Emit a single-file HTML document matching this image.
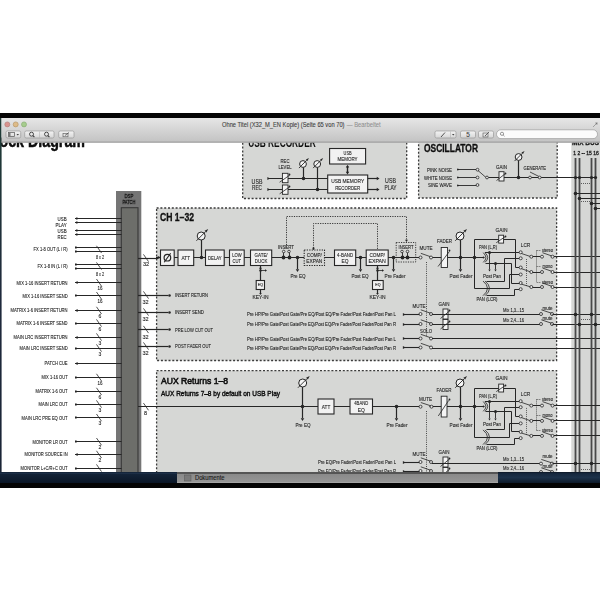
<!DOCTYPE html><html><head><meta charset="utf-8"><style>html,body{margin:0;padding:0;width:600px;height:600px;overflow:hidden;background:#fff}svg text{font-family:"Liberation Sans", sans-serif}</style></head><body><svg width="600" height="600" viewBox="0 0 600 600" style="position:absolute;left:0;top:0;font-family:&quot;Liberation Sans&quot;, sans-serif">
<defs><linearGradient id="tb" x1="0" y1="0" x2="0" y2="1"><stop offset="0" stop-color="#e6e6e6"/><stop offset="0.5" stop-color="#d4d4d4"/><stop offset="1" stop-color="#c2c2c2"/></linearGradient><linearGradient id="dock" x1="0" y1="0" x2="0" y2="1"><stop offset="0" stop-color="#8a8a8a"/><stop offset="1" stop-color="#969696"/></linearGradient><linearGradient id="blue" x1="0" y1="0" x2="0" y2="1"><stop offset="0" stop-color="#15263c"/><stop offset="1" stop-color="#0a1626"/></linearGradient><linearGradient id="btn" x1="0" y1="0" x2="0" y2="1"><stop offset="0" stop-color="#f4f4f4"/><stop offset="1" stop-color="#d6d6d6"/></linearGradient><linearGradient id="strip" x1="0" y1="0" x2="0" y2="1"><stop offset="0" stop-color="#1f3d36"/><stop offset="0.5" stop-color="#1f2a3c"/><stop offset="1" stop-color="#1a2436"/></linearGradient><linearGradient id="blue2" x1="0" y1="0" x2="0" y2="1"><stop offset="0" stop-color="#0c1624"/><stop offset="0.15" stop-color="#16283e"/><stop offset="0.5" stop-color="#1c3149"/><stop offset="1" stop-color="#0e1b2b"/></linearGradient><filter id="soft" x="0" y="0" width="1" height="1"><feGaussianBlur stdDeviation="0.35"/></filter></defs>
<g filter="url(#soft)">
<rect x="0" y="113" width="600" height="360" fill="#ffffff" />
<text x="-0.5" y="146.8" font-size="17.5" text-anchor="start" font-weight="bold" fill="#0a0a0a" textLength="85.5" lengthAdjust="spacingAndGlyphs" stroke="#0a0a0a" stroke-width="0.5">ock Diagram</text>
<rect x="242.7" y="128" width="164" height="70.5" fill="#d6d7d5" stroke="#3a3a3a" stroke-width="1.3" stroke-dasharray="2,1.8" />
<text x="248.2" y="147" font-size="12" text-anchor="start" font-weight="bold" fill="#111" textLength="67.5" lengthAdjust="spacingAndGlyphs" >USB RECORDER</text>
<rect x="418.6" y="128" width="138.6" height="70" fill="#d6d7d5" stroke="#3a3a3a" stroke-width="1.3" stroke-dasharray="2,1.8" />
<text x="424" y="151.5" font-size="10" text-anchor="start" font-weight="bold" fill="#111" textLength="54" lengthAdjust="spacingAndGlyphs" stroke="#111" stroke-width="0.3">OSCILLATOR</text>
<rect x="571.3" y="128" width="30" height="350" fill="#d6d7d5" />
<rect x="156.6" y="208" width="400" height="152.5" fill="#d6d7d5" stroke="#3a3a3a" stroke-width="1.3" stroke-dasharray="2,1.8" />
<text x="160" y="220.5" font-size="11" text-anchor="start" font-weight="bold" fill="#111" textLength="34" lengthAdjust="spacingAndGlyphs" stroke="#111" stroke-width="0.35">CH 1–32</text>
<rect x="156.6" y="370.6" width="400" height="130" fill="#d6d7d5" stroke="#3a3a3a" stroke-width="1.3" stroke-dasharray="2,1.8" />
<text x="161" y="383.5" font-size="9.8" text-anchor="start" font-weight="normal" fill="#111" textLength="67" lengthAdjust="spacingAndGlyphs" stroke="#111" stroke-width="0.6">AUX Returns 1–8</text>
<text x="161" y="395.5" font-size="6.8" text-anchor="start" font-weight="normal" fill="#111" textLength="119" lengthAdjust="spacingAndGlyphs" stroke="#111" stroke-width="0.4">AUX Returns 7–8 by default on USB Play</text>
<rect x="116" y="191" width="25.3" height="290" fill="#757575" />
<rect x="121.3" y="207.7" width="16.7" height="280" fill="#6d6e6a" stroke="#383838" stroke-width="1.1" />
<text x="128.9" y="198" font-size="5.5" text-anchor="middle" font-weight="normal" fill="#1a1a1a" textLength="9" lengthAdjust="spacingAndGlyphs" stroke="#1a1a1a" stroke-width="0.3">DSP</text>
<text x="128.9" y="204" font-size="5.5" text-anchor="middle" font-weight="normal" fill="#1a1a1a" textLength="13" lengthAdjust="spacingAndGlyphs" stroke="#1a1a1a" stroke-width="0.3">PATCH</text>
<line x1="75" y1="218.5" x2="121.5" y2="218.5" stroke="#262626" stroke-width="1.2"/>
<polygon points="75,218.5 77.34,217.06 77.34,219.94" fill="#262626"/>
<line x1="75" y1="222.5" x2="121.5" y2="222.5" stroke="#262626" stroke-width="1.2"/>
<polygon points="75,222.5 77.34,221.06 77.34,223.94" fill="#262626"/>
<line x1="75" y1="230.5" x2="121.5" y2="230.5" stroke="#262626" stroke-width="1.2"/>
<polygon points="75,230.5 77.34,229.06 77.34,231.94" fill="#262626"/>
<line x1="75" y1="234.5" x2="121.5" y2="234.5" stroke="#262626" stroke-width="1.2"/>
<polygon points="75,234.5 77.34,233.06 77.34,235.94" fill="#262626"/>
<text x="66.6" y="220.5" font-size="5.5" text-anchor="end" font-weight="normal" fill="#262626" textLength="9" lengthAdjust="spacingAndGlyphs" stroke="#262626" stroke-width="0.12">USB</text>
<text x="66.6" y="226.5" font-size="5.5" text-anchor="end" font-weight="normal" fill="#262626" textLength="11" lengthAdjust="spacingAndGlyphs" stroke="#262626" stroke-width="0.12">PLAY</text>
<text x="66.6" y="232.5" font-size="5.5" text-anchor="end" font-weight="normal" fill="#262626" textLength="9" lengthAdjust="spacingAndGlyphs" stroke="#262626" stroke-width="0.12">USB</text>
<text x="66.6" y="238.5" font-size="5.5" text-anchor="end" font-weight="normal" fill="#262626" textLength="9" lengthAdjust="spacingAndGlyphs" stroke="#262626" stroke-width="0.12">REC</text>
<line x1="75" y1="247.5" x2="121.5" y2="247.5" stroke="#262626" stroke-width="1.0"/>
<polygon points="78,247.5 75.4,245.9 75.4,249.1" fill="#262626"/>
<line x1="75" y1="251.5" x2="121.5" y2="251.5" stroke="#262626" stroke-width="1.0"/>
<polygon points="78,251.5 75.4,249.9 75.4,253.1" fill="#262626"/>
<line x1="96.48" y1="245.8" x2="101.52" y2="253.0" stroke="#262626" stroke-width="0.8"/>
<text x="100" y="258.9" font-size="5.5" text-anchor="middle" font-weight="normal" fill="#262626" textLength="8" lengthAdjust="spacingAndGlyphs" stroke="#262626" stroke-width="0.12">8 x 2</text>
<text x="67.6" y="251.4" font-size="5.8" text-anchor="end" font-weight="normal" fill="#262626" textLength="34" lengthAdjust="spacingAndGlyphs" stroke="#262626" stroke-width="0.12">FX 1-8 OUT (L / R)</text>
<line x1="75" y1="264.5" x2="121.5" y2="264.5" stroke="#262626" stroke-width="1.0"/>
<polygon points="78,264.5 75.4,262.9 75.4,266.1" fill="#262626"/>
<line x1="75" y1="268.5" x2="121.5" y2="268.5" stroke="#262626" stroke-width="1.0"/>
<polygon points="78,268.5 75.4,266.9 75.4,270.1" fill="#262626"/>
<line x1="96.48" y1="262.4" x2="101.52" y2="269.6" stroke="#262626" stroke-width="0.8"/>
<text x="100" y="275.5" font-size="5.5" text-anchor="middle" font-weight="normal" fill="#262626" textLength="8" lengthAdjust="spacingAndGlyphs" stroke="#262626" stroke-width="0.12">8 x 2</text>
<text x="67.6" y="268" font-size="5.8" text-anchor="end" font-weight="normal" fill="#262626" textLength="30" lengthAdjust="spacingAndGlyphs" stroke="#262626" stroke-width="0.12">FX 1-8 IN (L / R)</text>
<line x1="75" y1="282.5" x2="121.5" y2="282.5" stroke="#262626" stroke-width="1.0"/>
<polygon points="75,282.5 77.6,280.9 77.6,284.1" fill="#262626"/>
<line x1="96.48" y1="279.0" x2="101.52" y2="286.20000000000005" stroke="#262626" stroke-width="0.8"/>
<text x="100" y="290.1" font-size="5.5" text-anchor="middle" font-weight="normal" fill="#262626" textLength="5" lengthAdjust="spacingAndGlyphs" stroke="#262626" stroke-width="0.12">16</text>
<text x="67.6" y="284.6" font-size="5.8" text-anchor="end" font-weight="normal" fill="#262626" textLength="51" lengthAdjust="spacingAndGlyphs" stroke="#262626" stroke-width="0.12">MIX 1-16 INSERT RETURN</text>
<line x1="75" y1="295.5" x2="121.5" y2="295.5" stroke="#262626" stroke-width="1.0"/>
<polygon points="78,295.5 75.4,293.9 75.4,297.1" fill="#262626"/>
<line x1="96.48" y1="292.0" x2="101.52" y2="299.20000000000005" stroke="#262626" stroke-width="0.8"/>
<text x="100" y="303.1" font-size="5.5" text-anchor="middle" font-weight="normal" fill="#262626" textLength="5" lengthAdjust="spacingAndGlyphs" stroke="#262626" stroke-width="0.12">16</text>
<text x="67.6" y="297.6" font-size="5.8" text-anchor="end" font-weight="normal" fill="#262626" textLength="45" lengthAdjust="spacingAndGlyphs" stroke="#262626" stroke-width="0.12">MIX 1-16 INSERT SEND</text>
<line x1="75" y1="310.5" x2="121.5" y2="310.5" stroke="#262626" stroke-width="1.0"/>
<polygon points="75,310.5 77.6,308.9 77.6,312.1" fill="#262626"/>
<line x1="96.48" y1="306.79999999999995" x2="101.52" y2="314.0" stroke="#262626" stroke-width="0.8"/>
<text x="100" y="317.9" font-size="5.5" text-anchor="middle" font-weight="normal" fill="#262626" textLength="2.8" lengthAdjust="spacingAndGlyphs" stroke="#262626" stroke-width="0.12">6</text>
<text x="67.6" y="312.4" font-size="5.8" text-anchor="end" font-weight="normal" fill="#262626" textLength="57" lengthAdjust="spacingAndGlyphs" stroke="#262626" stroke-width="0.12">MATRIX 1-6 INSERT RETURN</text>
<line x1="75" y1="323.5" x2="121.5" y2="323.5" stroke="#262626" stroke-width="1.0"/>
<polygon points="78,323.5 75.4,321.9 75.4,325.1" fill="#262626"/>
<line x1="96.48" y1="319.4" x2="101.52" y2="326.6" stroke="#262626" stroke-width="0.8"/>
<text x="100" y="330.5" font-size="5.5" text-anchor="middle" font-weight="normal" fill="#262626" textLength="2.8" lengthAdjust="spacingAndGlyphs" stroke="#262626" stroke-width="0.12">6</text>
<text x="67.6" y="325" font-size="5.8" text-anchor="end" font-weight="normal" fill="#262626" textLength="51" lengthAdjust="spacingAndGlyphs" stroke="#262626" stroke-width="0.12">MATRIX 1-6 INSERT SEND</text>
<line x1="75" y1="337.5" x2="121.5" y2="337.5" stroke="#262626" stroke-width="1.0"/>
<polygon points="75,337.5 77.6,335.9 77.6,339.1" fill="#262626"/>
<line x1="96.48" y1="333.4" x2="101.52" y2="340.6" stroke="#262626" stroke-width="0.8"/>
<text x="100" y="344.5" font-size="5.5" text-anchor="middle" font-weight="normal" fill="#262626" textLength="2.8" lengthAdjust="spacingAndGlyphs" stroke="#262626" stroke-width="0.12">3</text>
<text x="67.6" y="339" font-size="5.8" text-anchor="end" font-weight="normal" fill="#262626" textLength="54" lengthAdjust="spacingAndGlyphs" stroke="#262626" stroke-width="0.12">MAIN LRC INSERT RETURN</text>
<line x1="75" y1="348.5" x2="121.5" y2="348.5" stroke="#262626" stroke-width="1.0"/>
<polygon points="78,348.5 75.4,346.9 75.4,350.1" fill="#262626"/>
<line x1="96.48" y1="344.4" x2="101.52" y2="351.6" stroke="#262626" stroke-width="0.8"/>
<text x="100" y="355.5" font-size="5.5" text-anchor="middle" font-weight="normal" fill="#262626" textLength="2.8" lengthAdjust="spacingAndGlyphs" stroke="#262626" stroke-width="0.12">3</text>
<text x="67.6" y="350" font-size="5.8" text-anchor="end" font-weight="normal" fill="#262626" textLength="48" lengthAdjust="spacingAndGlyphs" stroke="#262626" stroke-width="0.12">MAIN LRC INSERT SEND</text>
<line x1="75" y1="363.5" x2="121.5" y2="363.5" stroke="#262626" stroke-width="1.0"/>
<polygon points="75,363.5 77.6,361.9 77.6,365.1" fill="#262626"/>
<text x="67.6" y="365" font-size="5.8" text-anchor="end" font-weight="normal" fill="#262626" textLength="23" lengthAdjust="spacingAndGlyphs" stroke="#262626" stroke-width="0.12">PATCH CUE</text>
<line x1="75" y1="377.5" x2="121.5" y2="377.5" stroke="#262626" stroke-width="1.0"/>
<polygon points="78,377.5 75.4,375.9 75.4,379.1" fill="#262626"/>
<line x1="96.48" y1="373.79999999999995" x2="101.52" y2="381.0" stroke="#262626" stroke-width="0.8"/>
<text x="100" y="384.9" font-size="5.5" text-anchor="middle" font-weight="normal" fill="#262626" textLength="5" lengthAdjust="spacingAndGlyphs" stroke="#262626" stroke-width="0.12">16</text>
<text x="67.6" y="379.4" font-size="5.8" text-anchor="end" font-weight="normal" fill="#262626" textLength="26" lengthAdjust="spacingAndGlyphs" stroke="#262626" stroke-width="0.12">MIX 1-16 OUT</text>
<line x1="75" y1="391.5" x2="121.5" y2="391.5" stroke="#262626" stroke-width="1.0"/>
<polygon points="78,391.5 75.4,389.9 75.4,393.1" fill="#262626"/>
<line x1="96.48" y1="387.79999999999995" x2="101.52" y2="395.0" stroke="#262626" stroke-width="0.8"/>
<text x="100" y="398.9" font-size="5.5" text-anchor="middle" font-weight="normal" fill="#262626" textLength="2.8" lengthAdjust="spacingAndGlyphs" stroke="#262626" stroke-width="0.12">6</text>
<text x="67.6" y="393.4" font-size="5.8" text-anchor="end" font-weight="normal" fill="#262626" textLength="32" lengthAdjust="spacingAndGlyphs" stroke="#262626" stroke-width="0.12">MATRIX 1-6 OUT</text>
<line x1="75" y1="404.5" x2="121.5" y2="404.5" stroke="#262626" stroke-width="1.0"/>
<polygon points="78,404.5 75.4,402.9 75.4,406.1" fill="#262626"/>
<line x1="96.48" y1="400.4" x2="101.52" y2="407.6" stroke="#262626" stroke-width="0.8"/>
<text x="100" y="411.5" font-size="5.5" text-anchor="middle" font-weight="normal" fill="#262626" textLength="2.8" lengthAdjust="spacingAndGlyphs" stroke="#262626" stroke-width="0.12">3</text>
<text x="67.6" y="406" font-size="5.8" text-anchor="end" font-weight="normal" fill="#262626" textLength="29" lengthAdjust="spacingAndGlyphs" stroke="#262626" stroke-width="0.12">MAIN LRC OUT</text>
<line x1="75" y1="417.5" x2="121.5" y2="417.5" stroke="#262626" stroke-width="1.0"/>
<polygon points="78,417.5 75.4,415.9 75.4,419.1" fill="#262626"/>
<line x1="96.48" y1="414.0" x2="101.52" y2="421.20000000000005" stroke="#262626" stroke-width="0.8"/>
<text x="100" y="425.1" font-size="5.5" text-anchor="middle" font-weight="normal" fill="#262626" textLength="2.8" lengthAdjust="spacingAndGlyphs" stroke="#262626" stroke-width="0.12">3</text>
<text x="67.6" y="419.6" font-size="5.8" text-anchor="end" font-weight="normal" fill="#262626" textLength="46" lengthAdjust="spacingAndGlyphs" stroke="#262626" stroke-width="0.12">MAIN LRC PRE EQ OUT</text>
<line x1="75" y1="441.5" x2="121.5" y2="441.5" stroke="#262626" stroke-width="1.0"/>
<polygon points="78,441.5 75.4,439.9 75.4,443.1" fill="#262626"/>
<line x1="96.48" y1="438.0" x2="101.52" y2="445.20000000000005" stroke="#262626" stroke-width="0.8"/>
<text x="100" y="449.1" font-size="5.5" text-anchor="middle" font-weight="normal" fill="#262626" textLength="2.8" lengthAdjust="spacingAndGlyphs" stroke="#262626" stroke-width="0.12">2</text>
<text x="67.6" y="443.6" font-size="5.8" text-anchor="end" font-weight="normal" fill="#262626" textLength="35" lengthAdjust="spacingAndGlyphs" stroke="#262626" stroke-width="0.12">MONITOR LR OUT</text>
<line x1="75" y1="454.5" x2="121.5" y2="454.5" stroke="#262626" stroke-width="1.0"/>
<polygon points="75,454.5 77.6,452.9 77.6,456.1" fill="#262626"/>
<line x1="96.48" y1="450.79999999999995" x2="101.52" y2="458.0" stroke="#262626" stroke-width="0.8"/>
<text x="100" y="461.9" font-size="5.5" text-anchor="middle" font-weight="normal" fill="#262626" textLength="2.8" lengthAdjust="spacingAndGlyphs" stroke="#262626" stroke-width="0.12">2</text>
<text x="67.6" y="456.4" font-size="5.8" text-anchor="end" font-weight="normal" fill="#262626" textLength="43" lengthAdjust="spacingAndGlyphs" stroke="#262626" stroke-width="0.12">MONITOR SOURCE IN</text>
<line x1="75" y1="468.5" x2="121.5" y2="468.5" stroke="#262626" stroke-width="1.0"/>
<polygon points="78,468.5 75.4,466.9 75.4,470.1" fill="#262626"/>
<line x1="96.48" y1="464.4" x2="101.52" y2="471.6" stroke="#262626" stroke-width="0.8"/>
<text x="100" y="475.5" font-size="5.5" text-anchor="middle" font-weight="normal" fill="#262626" textLength="2.8" lengthAdjust="spacingAndGlyphs" stroke="#262626" stroke-width="0.12">2</text>
<text x="67.6" y="470" font-size="5.8" text-anchor="end" font-weight="normal" fill="#262626" textLength="47" lengthAdjust="spacingAndGlyphs" stroke="#262626" stroke-width="0.12">MONITOR L+C/R+C OUT</text>
<line x1="138" y1="258.5" x2="158" y2="258.5" stroke="#262626" stroke-width="1.2"/>
<line x1="143.48" y1="254.4" x2="148.52" y2="261.6" stroke="#262626" stroke-width="0.8"/>
<text x="146" y="266" font-size="5.5" text-anchor="middle" font-weight="normal" fill="#262626" stroke="#262626" stroke-width="0.12">32</text>
<line x1="138" y1="295.5" x2="168" y2="295.5" stroke="#262626" stroke-width="1.2"/>
<circle cx="169.5" cy="295.5" r="1.3" fill="#262626"/>
<line x1="143.48" y1="291.4" x2="148.52" y2="298.6" stroke="#262626" stroke-width="0.8"/>
<text x="145.5" y="304" font-size="5.5" text-anchor="middle" font-weight="normal" fill="#262626" stroke="#262626" stroke-width="0.12">32</text>
<text x="175" y="297" font-size="5.8" text-anchor="start" font-weight="normal" fill="#262626" textLength="33" lengthAdjust="spacingAndGlyphs" stroke="#262626" stroke-width="0.12">INSERT RETURN</text>
<line x1="138" y1="312.5" x2="168" y2="312.5" stroke="#262626" stroke-width="1.2"/>
<circle cx="169.5" cy="312.5" r="1.3" fill="#262626"/>
<line x1="143.48" y1="308.4" x2="148.52" y2="315.6" stroke="#262626" stroke-width="0.8"/>
<text x="145.5" y="321" font-size="5.5" text-anchor="middle" font-weight="normal" fill="#262626" stroke="#262626" stroke-width="0.12">32</text>
<text x="175" y="314" font-size="5.8" text-anchor="start" font-weight="normal" fill="#262626" textLength="29" lengthAdjust="spacingAndGlyphs" stroke="#262626" stroke-width="0.12">INSERT SEND</text>
<line x1="138" y1="329.5" x2="168" y2="329.5" stroke="#262626" stroke-width="1.2"/>
<circle cx="169.5" cy="329.5" r="1.3" fill="#262626"/>
<line x1="143.48" y1="325.9" x2="148.52" y2="333.1" stroke="#262626" stroke-width="0.8"/>
<text x="145.5" y="338.5" font-size="5.5" text-anchor="middle" font-weight="normal" fill="#262626" stroke="#262626" stroke-width="0.12">32</text>
<text x="175" y="331.5" font-size="5.8" text-anchor="start" font-weight="normal" fill="#262626" textLength="38" lengthAdjust="spacingAndGlyphs" stroke="#262626" stroke-width="0.12">PRE LOW CUT OUT</text>
<line x1="138" y1="346.5" x2="168" y2="346.5" stroke="#262626" stroke-width="1.2"/>
<circle cx="169.5" cy="346.5" r="1.3" fill="#262626"/>
<line x1="143.48" y1="342.4" x2="148.52" y2="349.6" stroke="#262626" stroke-width="0.8"/>
<text x="145.5" y="355" font-size="5.5" text-anchor="middle" font-weight="normal" fill="#262626" stroke="#262626" stroke-width="0.12">32</text>
<text x="175" y="348" font-size="5.8" text-anchor="start" font-weight="normal" fill="#262626" textLength="36" lengthAdjust="spacingAndGlyphs" stroke="#262626" stroke-width="0.12">POST FADER OUT</text>
<line x1="138" y1="406.5" x2="300" y2="406.5" stroke="#262626" stroke-width="1.2"/>
<line x1="143.48" y1="403.09999999999997" x2="148.52" y2="410.3" stroke="#262626" stroke-width="0.8"/>
<text x="145.5" y="415" font-size="5.5" text-anchor="middle" font-weight="normal" fill="#262626" stroke="#262626" stroke-width="0.12">8</text>
<line x1="156" y1="257.5" x2="475" y2="257.5" stroke="#262626" stroke-width="1.0"/>
<circle cx="158.5" cy="257.5" r="1.2" fill="#262626"/>
<rect x="160.5" y="250" width="13.699999999999989" height="15.5" fill="#f2f2f2" stroke="#262626" stroke-width="1.1" />
<circle cx="167.4" cy="257.7" r="3.3" fill="none" stroke="#262626" stroke-width="1.2"/>
<line x1="164.2" y1="262.2" x2="170.6" y2="253.2" stroke="#262626" stroke-width="1.1"/>
<rect x="178" y="250" width="15.699999999999989" height="15.5" fill="#f2f2f2" stroke="#262626" stroke-width="1.1" />
<text x="185.85" y="259.91" font-size="6" text-anchor="middle" font-weight="normal" fill="#262626" textLength="8.5" lengthAdjust="spacingAndGlyphs" stroke="#262626" stroke-width="0.12">ATT</text>
<circle cx="201.5" cy="257.5" r="1.8" fill="#262626"/>
<line x1="201.5" y1="257.5" x2="201.5" y2="240" stroke="#262626" stroke-width="1.2"/>
<circle cx="201.2" cy="236" r="4" fill="#f4f4f4" stroke="#262626" stroke-width="1"/>
<line x1="196.39999999999998" y1="240.8" x2="205.6" y2="231.6" stroke="#262626" stroke-width="0.9"/>
<polygon points="208.2,229.0 204.6,230.8 206.39999999999998,232.6" fill="#262626"/>
<rect x="205.5" y="250" width="18.69999999999999" height="15.5" fill="#f2f2f2" stroke="#262626" stroke-width="1.1" />
<text x="214.85" y="259.91" font-size="6" text-anchor="middle" font-weight="normal" fill="#262626" textLength="13.6" lengthAdjust="spacingAndGlyphs" stroke="#262626" stroke-width="0.12">DELAY</text>
<rect x="229.5" y="250" width="14.699999999999989" height="15.5" fill="#f2f2f2" stroke="#262626" stroke-width="1.1" />
<text x="236.85" y="256.62" font-size="5.6" text-anchor="middle" font-weight="normal" fill="#262626" textLength="9.4" lengthAdjust="spacingAndGlyphs" stroke="#262626" stroke-width="0.12">LOW</text>
<text x="236.85" y="262.92" font-size="5.6" text-anchor="middle" font-weight="normal" fill="#262626" textLength="8.5" lengthAdjust="spacingAndGlyphs" stroke="#262626" stroke-width="0.12">CUT</text>
<rect x="250.5" y="250" width="21.19999999999999" height="15.5" fill="#f2f2f2" stroke="#262626" stroke-width="1.1" />
<text x="261.1" y="256.62" font-size="5.6" text-anchor="middle" font-weight="normal" fill="#262626" textLength="13" lengthAdjust="spacingAndGlyphs" stroke="#262626" stroke-width="0.12">GATE/</text>
<text x="261.1" y="262.92" font-size="5.6" text-anchor="middle" font-weight="normal" fill="#262626" textLength="12.5" lengthAdjust="spacingAndGlyphs" stroke="#262626" stroke-width="0.12">DUCK</text>
<line x1="260.5" y1="265.5" x2="260.5" y2="280.5" stroke="#262626" stroke-width="1.2"/>
<polygon points="260.5,266.5 259.06,268.84 261.94,268.84" fill="#262626"/>
<circle cx="260.5" cy="270.5" r="1.2" fill="#262626"/>
<line x1="260.5" y1="270.5" x2="266" y2="270.5" stroke="#262626" stroke-width="0.8"/>
<polygon points="267,270.5 265.05,269.3 265.05,271.7" fill="#262626"/>
<rect x="256.2" y="280.5" width="8.300000000000011" height="9.0" fill="#f2f2f2" stroke="#262626" stroke-width="1.1" />
<text x="260.35" y="286.3" font-size="3.6" text-anchor="middle" font-weight="normal" fill="#262626" stroke="#262626" stroke-width="0.12">EQ</text>
<line x1="260.5" y1="289.5" x2="260.5" y2="294" stroke="#262626" stroke-width="1.2"/>
<polygon points="260.5,295 259.3,293.05 261.7,293.05" fill="#262626"/>
<text x="260.5" y="298.5" font-size="5.3" text-anchor="middle" font-weight="normal" fill="#262626" textLength="16" lengthAdjust="spacingAndGlyphs" stroke="#262626" stroke-width="0.12">KEY-IN</text>
<text x="286" y="249" font-size="5.5" text-anchor="middle" font-weight="normal" fill="#262626" textLength="16" lengthAdjust="spacingAndGlyphs" stroke="#262626" stroke-width="0.12">INSERT</text>
<line x1="283.5" y1="252" x2="283.5" y2="257.5" stroke="#262626" stroke-width="0.9"/>
<line x1="289.5" y1="252" x2="289.5" y2="257.5" stroke="#262626" stroke-width="0.9"/>
<circle cx="283.7" cy="251.5" r="1.3" fill="#e6e6e6" stroke="#262626" stroke-width="0.8"/>
<circle cx="289" cy="251.5" r="1.3" fill="#e6e6e6" stroke="#262626" stroke-width="0.8"/>
<circle cx="283.5" cy="257.5" r="1.9" fill="#262626"/>
<circle cx="289.5" cy="257.5" r="1.9" fill="#262626"/>
<circle cx="297.5" cy="257.5" r="1.8" fill="#262626"/>
<line x1="297.5" y1="257.5" x2="297.5" y2="269" stroke="#262626" stroke-width="1.2"/>
<polygon points="297.5,272 295.74,269.14 299.26,269.14" fill="#262626"/>
<text x="298" y="277.5" font-size="5.5" text-anchor="middle" font-weight="normal" fill="#262626" textLength="15" lengthAdjust="spacingAndGlyphs" stroke="#262626" stroke-width="0.12">Pre EQ</text>
<polyline points="286.5,247.5 286.5,216.5 406.5,216.5 406.5,239.5" stroke="#262626" stroke-width="0.9" fill="none" stroke-dasharray="1.2,1.2"/>
<polygon points="406.5,242 405.06,239.66 407.94,239.66" fill="#262626"/>
<polyline points="313.5,250.5 313.5,223.5 377.5,223.5 377.5,250.5" stroke="#262626" stroke-width="0.9" fill="none" stroke-dasharray="1.2,1.2"/>
<polygon points="313.5,250 312.06,247.66 314.94,247.66" fill="#262626"/>
<rect x="304.2" y="250" width="20.30000000000001" height="15.5" fill="#d6d7d5" stroke="#262626" stroke-width="1.1" stroke-dasharray="1.3,1.2" />
<text x="314.35" y="256.62" font-size="5.6" text-anchor="middle" font-weight="normal" fill="#262626" textLength="15" lengthAdjust="spacingAndGlyphs" stroke="#262626" stroke-width="0.12">COMP/</text>
<text x="314.35" y="262.92" font-size="5.6" text-anchor="middle" font-weight="normal" fill="#262626" textLength="16" lengthAdjust="spacingAndGlyphs" stroke="#262626" stroke-width="0.12">EXPAN</text>
<rect x="334.5" y="250" width="21.19999999999999" height="15.5" fill="#f2f2f2" stroke="#262626" stroke-width="1.1" />
<text x="345.1" y="256.62" font-size="5.6" text-anchor="middle" font-weight="normal" fill="#262626" textLength="16" lengthAdjust="spacingAndGlyphs" stroke="#262626" stroke-width="0.12">4-BAND</text>
<text x="345.1" y="262.92" font-size="5.6" text-anchor="middle" font-weight="normal" fill="#262626" textLength="7" lengthAdjust="spacingAndGlyphs" stroke="#262626" stroke-width="0.12">EQ</text>
<circle cx="360.5" cy="257.5" r="1.8" fill="#262626"/>
<line x1="360.5" y1="257.5" x2="360.5" y2="269" stroke="#262626" stroke-width="1.2"/>
<polygon points="360.5,272 358.74,269.14 362.26,269.14" fill="#262626"/>
<text x="360" y="277.5" font-size="5.5" text-anchor="middle" font-weight="normal" fill="#262626" textLength="17" lengthAdjust="spacingAndGlyphs" stroke="#262626" stroke-width="0.12">Post EQ</text>
<rect x="366.2" y="250" width="22.0" height="15.5" fill="#f2f2f2" stroke="#262626" stroke-width="1.1" />
<text x="377.2" y="256.62" font-size="5.6" text-anchor="middle" font-weight="normal" fill="#262626" textLength="15.5" lengthAdjust="spacingAndGlyphs" stroke="#262626" stroke-width="0.12">COMP/</text>
<text x="377.2" y="262.92" font-size="5.6" text-anchor="middle" font-weight="normal" fill="#262626" textLength="17.5" lengthAdjust="spacingAndGlyphs" stroke="#262626" stroke-width="0.12">EXPAN</text>
<line x1="377.5" y1="265.5" x2="377.5" y2="280.5" stroke="#262626" stroke-width="1.2"/>
<polygon points="377.5,266.5 376.06,268.84 378.94,268.84" fill="#262626"/>
<circle cx="377.5" cy="270.5" r="1.2" fill="#262626"/>
<line x1="377.5" y1="270.5" x2="383" y2="270.5" stroke="#262626" stroke-width="0.8"/>
<polygon points="384,270.5 382.05,269.3 382.05,271.7" fill="#262626"/>
<rect x="372.5" y="280.5" width="10.699999999999989" height="9.0" fill="#f2f2f2" stroke="#262626" stroke-width="1.1" />
<text x="377.85" y="286.3" font-size="3.6" text-anchor="middle" font-weight="normal" fill="#262626" stroke="#262626" stroke-width="0.12">EQ</text>
<line x1="377.5" y1="289.5" x2="377.5" y2="294" stroke="#262626" stroke-width="1.2"/>
<polygon points="377.5,295 376.3,293.05 378.7,293.05" fill="#262626"/>
<text x="377.5" y="298.5" font-size="5.3" text-anchor="middle" font-weight="normal" fill="#262626" textLength="16" lengthAdjust="spacingAndGlyphs" stroke="#262626" stroke-width="0.12">KEY-IN</text>
<circle cx="393.5" cy="257.5" r="1.8" fill="#262626"/>
<line x1="393.5" y1="257.5" x2="393.5" y2="269" stroke="#262626" stroke-width="1.2"/>
<polygon points="393.5,272 391.74,269.14 395.26,269.14" fill="#262626"/>
<text x="395" y="277.5" font-size="5.5" text-anchor="middle" font-weight="normal" fill="#262626" textLength="21" lengthAdjust="spacingAndGlyphs" stroke="#262626" stroke-width="0.12">Pre Fader</text>
<rect x="396.2" y="242.5" width="19.5" height="19.5" fill="none" stroke="#262626" stroke-width="0.9" stroke-dasharray="1.2,1.2" />
<text x="406" y="248.5" font-size="5" text-anchor="middle" font-weight="normal" fill="#262626" textLength="15" lengthAdjust="spacingAndGlyphs" stroke="#262626" stroke-width="0.12">INSERT</text>
<line x1="402.5" y1="252" x2="402.5" y2="257.5" stroke="#262626" stroke-width="0.9"/>
<line x1="407.5" y1="252" x2="407.5" y2="257.5" stroke="#262626" stroke-width="0.9"/>
<circle cx="402" cy="251.5" r="1.3" fill="#e6e6e6" stroke="#262626" stroke-width="0.8"/>
<circle cx="407.5" cy="251.5" r="1.3" fill="#e6e6e6" stroke="#262626" stroke-width="0.8"/>
<circle cx="402.5" cy="257.5" r="1.9" fill="#262626"/>
<circle cx="407.5" cy="257.5" r="1.9" fill="#262626"/>
<rect x="422" y="256.0" width="7.5" height="3" fill="#d6d7d5" />
<text x="426" y="250" font-size="5.5" text-anchor="middle" font-weight="normal" fill="#262626" textLength="13" lengthAdjust="spacingAndGlyphs" stroke="#262626" stroke-width="0.12">MUTE</text>
<circle cx="420.5" cy="257.5" r="1.5" fill="#e6e6e6" stroke="#262626" stroke-width="0.8"/>
<circle cx="431" cy="257.5" r="1.5" fill="#e6e6e6" stroke="#262626" stroke-width="0.8"/>
<line x1="420.8" y1="253.3" x2="430.2" y2="256.6" stroke="#262626" stroke-width="0.8"/>
<line x1="426.5" y1="262" x2="426.5" y2="336" stroke="#262626" stroke-width="0.8" stroke-dasharray="1,1.2"/>
<text x="444.5" y="243" font-size="5.5" text-anchor="middle" font-weight="normal" fill="#262626" textLength="15" lengthAdjust="spacingAndGlyphs" stroke="#262626" stroke-width="0.12">FADER</text>
<rect x="441.2" y="247.5" width="6.300000000000011" height="20.0" fill="#f4f4f4" stroke="#262626" stroke-width="0.9" />
<line x1="438.04999999999995" y1="266.5" x2="449.39" y2="251.5" stroke="#262626" stroke-width="0.8"/>
<circle cx="449.5" cy="250.5" r="0.9" fill="#262626"/>
<circle cx="460" cy="236" r="4" fill="#f4f4f4" stroke="#262626" stroke-width="1"/>
<line x1="455.2" y1="240.8" x2="464.4" y2="231.6" stroke="#262626" stroke-width="0.9"/>
<polygon points="467.0,229.0 463.4,230.8 465.2,232.6" fill="#262626"/>
<line x1="460.5" y1="240" x2="460.5" y2="269" stroke="#262626" stroke-width="1.2"/>
<circle cx="460.5" cy="257.5" r="1.8" fill="#262626"/>
<polygon points="460.5,272 458.74,269.14 462.26,269.14" fill="#262626"/>
<text x="461" y="277.5" font-size="5.5" text-anchor="middle" font-weight="normal" fill="#262626" textLength="23" lengthAdjust="spacingAndGlyphs" stroke="#262626" stroke-width="0.12">Post Fader</text>
<circle cx="474.5" cy="257.5" r="1.8" fill="#262626"/>
<polyline points="474.5,288.5 474.5,239.5 515.5,239.5 515.5,267.5 519.5,267.5" stroke="#262626" stroke-width="1.0" fill="none"/>
<rect x="498.7" y="235.2" width="4.900000000000034" height="7.900000000000006" fill="#f4f4f4" stroke="#262626" stroke-width="0.9" />
<line x1="496.25" y1="242.70499999999998" x2="505.07000000000005" y2="236.78" stroke="#262626" stroke-width="0.8"/>
<circle cx="505.5" cy="236.5" r="0.9" fill="#262626"/>
<text x="501.5" y="231.5" font-size="5.5" text-anchor="middle" font-weight="normal" fill="#262626" textLength="12" lengthAdjust="spacingAndGlyphs" stroke="#262626" stroke-width="0.12">GAIN</text>
<text x="488" y="249" font-size="5.5" text-anchor="middle" font-weight="normal" fill="#262626" textLength="18" lengthAdjust="spacingAndGlyphs" stroke="#262626" stroke-width="0.12">PAN (L,R)</text>
<line x1="474.9" y1="257.5" x2="483" y2="257.5" stroke="#262626" stroke-width="1.0"/>
<polygon points="485,257.5 482.92,256.22 482.92,258.78" fill="#262626"/>
<path d="M483.2,252.6 Q488.6,257.75 483.2,262.4 M485,252.6 Q490.4,257.75 485,262.4" fill="none" stroke="#262626" stroke-width="0.8"/>
<line x1="485" y1="252.5" x2="519.2" y2="252.5" stroke="#262626" stroke-width="1.0"/>
<polyline points="485.5,263.5 511.5,263.5 511.5,283.5 519.5,283.5" stroke="#262626" stroke-width="1.0" fill="none"/>
<circle cx="489.5" cy="252.5" r="1.5" fill="#262626"/>
<circle cx="495.5" cy="263.5" r="1.5" fill="#262626"/>
<line x1="489.5" y1="252.3" x2="489.5" y2="269.5" stroke="#262626" stroke-width="0.9"/>
<polygon points="489.5,271.5 488.3,269.55 490.7,269.55" fill="#262626"/>
<line x1="495.5" y1="263" x2="495.5" y2="269.5" stroke="#262626" stroke-width="0.9"/>
<polygon points="495.5,271.5 494.3,269.55 496.7,269.55" fill="#262626"/>
<text x="492" y="277.5" font-size="5.5" text-anchor="middle" font-weight="normal" fill="#262626" textLength="18" lengthAdjust="spacingAndGlyphs" stroke="#262626" stroke-width="0.12">Post Pan</text>
<polyline points="519.5,258.5 504.5,258.5 504.5,281.5 486.5,281.5" stroke="#262626" stroke-width="1.0" fill="none"/>
<polyline points="474.5,288.5 509.5,288.5 509.5,274.5 519.5,274.5" stroke="#262626" stroke-width="1.0" fill="none"/>
<polyline points="486.5,295.5 514.5,295.5 514.5,289.5 519.5,289.5" stroke="#262626" stroke-width="1.0" fill="none"/>
<path d="M483,281 Q492,288.3 483,295.7 M485,281 Q494,288.3 485,295.7" fill="none" stroke="#262626" stroke-width="0.8"/>
<text x="487" y="301" font-size="5.5" text-anchor="middle" font-weight="normal" fill="#262626" textLength="21" lengthAdjust="spacingAndGlyphs" stroke="#262626" stroke-width="0.12">PAN (LCR)</text>
<text x="525.5" y="247" font-size="6" text-anchor="middle" font-weight="normal" fill="#262626" textLength="9.5" lengthAdjust="spacingAndGlyphs" stroke="#262626" stroke-width="0.12">LCR</text>
<circle cx="520.7" cy="252.3" r="1.5" fill="#e6e6e6" stroke="#262626" stroke-width="0.8"/>
<circle cx="520.7" cy="258.3" r="1.5" fill="#e6e6e6" stroke="#262626" stroke-width="0.8"/>
<circle cx="520.7" cy="267.5" r="1.5" fill="#e6e6e6" stroke="#262626" stroke-width="0.8"/>
<circle cx="520.7" cy="274.5" r="1.5" fill="#e6e6e6" stroke="#262626" stroke-width="0.8"/>
<circle cx="520.7" cy="283" r="1.5" fill="#e6e6e6" stroke="#262626" stroke-width="0.8"/>
<circle cx="520.7" cy="289.2" r="1.5" fill="#e6e6e6" stroke="#262626" stroke-width="0.8"/>
<line x1="521.5" y1="253.5" x2="530" y2="256.4" stroke="#262626" stroke-width="0.8"/>
<circle cx="531.3" cy="256.7" r="1.5" fill="#e6e6e6" stroke="#262626" stroke-width="0.8"/>
<line x1="532.8" y1="256.5" x2="540.5" y2="256.5" stroke="#262626" stroke-width="1.0"/>
<circle cx="542" cy="256.7" r="1.5" fill="#e6e6e6" stroke="#262626" stroke-width="0.8"/>
<circle cx="552.5" cy="256.7" r="1.5" fill="#e6e6e6" stroke="#262626" stroke-width="0.8"/>
<line x1="542.5" y1="252.7" x2="551.5" y2="255.89999999999998" stroke="#262626" stroke-width="0.8"/>
<line x1="554" y1="256.5" x2="600" y2="256.5" stroke="#262626" stroke-width="1.2"/>
<line x1="521.5" y1="268.7" x2="530" y2="271.7" stroke="#262626" stroke-width="0.8"/>
<circle cx="531.3" cy="272" r="1.5" fill="#e6e6e6" stroke="#262626" stroke-width="0.8"/>
<line x1="532.8" y1="272.5" x2="540.5" y2="272.5" stroke="#262626" stroke-width="1.0"/>
<circle cx="542" cy="272" r="1.5" fill="#e6e6e6" stroke="#262626" stroke-width="0.8"/>
<circle cx="552.5" cy="272" r="1.5" fill="#e6e6e6" stroke="#262626" stroke-width="0.8"/>
<line x1="542.5" y1="268" x2="551.5" y2="271.2" stroke="#262626" stroke-width="0.8"/>
<line x1="554" y1="272.5" x2="600" y2="272.5" stroke="#262626" stroke-width="1.2"/>
<line x1="521.5" y1="284.2" x2="530" y2="286.7" stroke="#262626" stroke-width="0.8"/>
<circle cx="531.3" cy="287" r="1.5" fill="#e6e6e6" stroke="#262626" stroke-width="0.8"/>
<line x1="532.8" y1="287.5" x2="540.5" y2="287.5" stroke="#262626" stroke-width="1.0"/>
<circle cx="542" cy="287" r="1.5" fill="#e6e6e6" stroke="#262626" stroke-width="0.8"/>
<circle cx="552.5" cy="287" r="1.5" fill="#e6e6e6" stroke="#262626" stroke-width="0.8"/>
<line x1="542.5" y1="283" x2="551.5" y2="286.2" stroke="#262626" stroke-width="0.8"/>
<line x1="554" y1="287.5" x2="600" y2="287.5" stroke="#262626" stroke-width="1.2"/>
<line x1="526.5" y1="259" x2="526.5" y2="287" stroke="#262626" stroke-width="0.7" stroke-dasharray="1,1"/>
<line x1="536.5" y1="250.5" x2="536.5" y2="282" stroke="#262626" stroke-width="0.7" stroke-dasharray="1,1"/>
<line x1="536.7" y1="250.5" x2="541" y2="250.5" stroke="#262626" stroke-width="0.7" stroke-dasharray="1,1"/>
<line x1="536.7" y1="266.5" x2="541" y2="266.5" stroke="#262626" stroke-width="0.7" stroke-dasharray="1,1"/>
<line x1="536.7" y1="282.5" x2="541" y2="282.5" stroke="#262626" stroke-width="0.7" stroke-dasharray="1,1"/>
<text x="547.5" y="252" font-size="5" text-anchor="middle" font-weight="normal" fill="#262626" textLength="11" lengthAdjust="spacingAndGlyphs" stroke="#262626" stroke-width="0.12">stereo</text>
<text x="547.5" y="268" font-size="5" text-anchor="middle" font-weight="normal" fill="#262626" textLength="10" lengthAdjust="spacingAndGlyphs" stroke="#262626" stroke-width="0.12">mono</text>
<text x="547.5" y="283.5" font-size="5" text-anchor="middle" font-weight="normal" fill="#262626" textLength="11" lengthAdjust="spacingAndGlyphs" stroke="#262626" stroke-width="0.12">stereo</text>
<text x="396" y="316" font-size="5.6" text-anchor="end" font-weight="normal" fill="#262626" textLength="149" lengthAdjust="spacingAndGlyphs" stroke="#262626" stroke-width="0.12">Pre HP/Pre Gate/Post Gate/Pre EQ/Post EQ/Pre Fader/Post Fader/Post Pan L</text>
<line x1="403" y1="314.5" x2="420" y2="314.5" stroke="#262626" stroke-width="1.1"/>
<polygon points="405.5,314.5 402.9,312.9 402.9,316.1" fill="#262626"/>
<circle cx="420.5" cy="314" r="1.5" fill="#e6e6e6" stroke="#262626" stroke-width="0.8"/>
<circle cx="431" cy="314" r="1.5" fill="#e6e6e6" stroke="#262626" stroke-width="0.8"/>
<line x1="420.8" y1="309.8" x2="430.2" y2="313.1" stroke="#262626" stroke-width="0.8"/>
<text x="396" y="326" font-size="5.6" text-anchor="end" font-weight="normal" fill="#262626" textLength="149" lengthAdjust="spacingAndGlyphs" stroke="#262626" stroke-width="0.12">Pre HP/Pre Gate/Post Gate/Pre EQ/Post EQ/Pre Fader/Post Fader/Post Pan R</text>
<line x1="403" y1="324.5" x2="420" y2="324.5" stroke="#262626" stroke-width="1.1"/>
<polygon points="405.5,324.5 402.9,322.9 402.9,326.1" fill="#262626"/>
<circle cx="420.5" cy="324" r="1.5" fill="#e6e6e6" stroke="#262626" stroke-width="0.8"/>
<circle cx="431" cy="324" r="1.5" fill="#e6e6e6" stroke="#262626" stroke-width="0.8"/>
<line x1="420.8" y1="319.8" x2="430.2" y2="323.1" stroke="#262626" stroke-width="0.8"/>
<text x="396" y="340.5" font-size="5.6" text-anchor="end" font-weight="normal" fill="#262626" textLength="149" lengthAdjust="spacingAndGlyphs" stroke="#262626" stroke-width="0.12">Pre HP/Pre Gate/Post Gate/Pre EQ/Post EQ/Pre Fader/Post Fader/Post Pan L</text>
<line x1="403" y1="338.5" x2="420" y2="338.5" stroke="#262626" stroke-width="1.1"/>
<polygon points="405.5,338.5 402.9,336.9 402.9,340.1" fill="#262626"/>
<circle cx="420.5" cy="338.5" r="1.5" fill="#e6e6e6" stroke="#262626" stroke-width="0.8"/>
<circle cx="431" cy="338.5" r="1.5" fill="#e6e6e6" stroke="#262626" stroke-width="0.8"/>
<line x1="420.8" y1="334.3" x2="430.2" y2="337.6" stroke="#262626" stroke-width="0.8"/>
<text x="396" y="349.5" font-size="5.6" text-anchor="end" font-weight="normal" fill="#262626" textLength="149" lengthAdjust="spacingAndGlyphs" stroke="#262626" stroke-width="0.12">Pre HP/Pre Gate/Post Gate/Pre EQ/Post EQ/Pre Fader/Post Fader/Post Pan R</text>
<line x1="403" y1="347.5" x2="420" y2="347.5" stroke="#262626" stroke-width="1.1"/>
<polygon points="405.5,347.5 402.9,345.9 402.9,349.1" fill="#262626"/>
<circle cx="420.5" cy="347.5" r="1.5" fill="#e6e6e6" stroke="#262626" stroke-width="0.8"/>
<circle cx="431" cy="347.5" r="1.5" fill="#e6e6e6" stroke="#262626" stroke-width="0.8"/>
<line x1="420.8" y1="343.3" x2="430.2" y2="346.6" stroke="#262626" stroke-width="0.8"/>
<text x="419" y="307.5" font-size="5.5" text-anchor="middle" font-weight="normal" fill="#262626" textLength="13" lengthAdjust="spacingAndGlyphs" stroke="#262626" stroke-width="0.12">MUTE</text>
<text x="426" y="333" font-size="5.5" text-anchor="middle" font-weight="normal" fill="#262626" textLength="12" lengthAdjust="spacingAndGlyphs" stroke="#262626" stroke-width="0.12">SOLO</text>
<text x="444" y="305.5" font-size="5.5" text-anchor="middle" font-weight="normal" fill="#262626" textLength="11" lengthAdjust="spacingAndGlyphs" stroke="#262626" stroke-width="0.12">GAIN</text>
<rect x="443" y="309" width="5" height="10" fill="#f4f4f4" stroke="#262626" stroke-width="0.9" />
<line x1="440.5" y1="318.5" x2="449.5" y2="311.0" stroke="#262626" stroke-width="0.8"/>
<circle cx="449.5" cy="310.5" r="0.9" fill="#262626"/>
<rect x="443" y="319.5" width="5" height="10.0" fill="#f4f4f4" stroke="#262626" stroke-width="0.9" />
<line x1="440.5" y1="329.0" x2="449.5" y2="321.5" stroke="#262626" stroke-width="0.8"/>
<circle cx="449.5" cy="321.5" r="0.9" fill="#262626"/>
<line x1="432" y1="314.5" x2="541" y2="314.5" stroke="#262626" stroke-width="1.0"/>
<circle cx="541" cy="314" r="1.5" fill="#e6e6e6" stroke="#262626" stroke-width="0.8"/>
<circle cx="552" cy="314" r="1.5" fill="#e6e6e6" stroke="#262626" stroke-width="0.8"/>
<line x1="541.3" y1="309.8" x2="551.2" y2="313.1" stroke="#262626" stroke-width="0.8"/>
<line x1="552.5" y1="314.5" x2="600" y2="314.5" stroke="#262626" stroke-width="1.0"/>
<line x1="432" y1="324.5" x2="541" y2="324.5" stroke="#262626" stroke-width="1.0"/>
<circle cx="541" cy="324" r="1.5" fill="#e6e6e6" stroke="#262626" stroke-width="0.8"/>
<circle cx="552" cy="324" r="1.5" fill="#e6e6e6" stroke="#262626" stroke-width="0.8"/>
<line x1="541.3" y1="319.8" x2="551.2" y2="323.1" stroke="#262626" stroke-width="0.8"/>
<line x1="552.5" y1="324.5" x2="600" y2="324.5" stroke="#262626" stroke-width="1.0"/>
<text x="513.5" y="312" font-size="5.5" text-anchor="middle" font-weight="normal" fill="#262626" textLength="21" lengthAdjust="spacingAndGlyphs" stroke="#262626" stroke-width="0.12">Mix 1,3...15</text>
<text x="513.5" y="322" font-size="5.5" text-anchor="middle" font-weight="normal" fill="#262626" textLength="21" lengthAdjust="spacingAndGlyphs" stroke="#262626" stroke-width="0.12">Mix 2,4...16</text>
<text x="547.5" y="310" font-size="5" text-anchor="middle" font-weight="normal" fill="#262626" textLength="10" lengthAdjust="spacingAndGlyphs" stroke="#262626" stroke-width="0.12">mute</text>
<text x="547.5" y="320" font-size="5" text-anchor="middle" font-weight="normal" fill="#262626" textLength="10" lengthAdjust="spacingAndGlyphs" stroke="#262626" stroke-width="0.12">mute</text>
<line x1="432" y1="338.5" x2="600" y2="338.5" stroke="#262626" stroke-width="1.0"/>
<line x1="432" y1="348.5" x2="600" y2="348.5" stroke="#262626" stroke-width="1.0"/>
<line x1="268" y1="178.5" x2="328" y2="178.5" stroke="#262626" stroke-width="1.2"/>
<polygon points="270,178.5 267.4,176.9 267.4,180.1" fill="#262626"/>
<line x1="268" y1="189.5" x2="328" y2="189.5" stroke="#262626" stroke-width="1.2"/>
<polygon points="270,189.5 267.4,187.9 267.4,191.1" fill="#262626"/>
<rect x="282.4" y="173.3" width="5.600000000000023" height="9.399999999999977" fill="#f4f4f4" stroke="#262626" stroke-width="0.9" />
<line x1="279.59999999999997" y1="182.23" x2="289.68" y2="175.18" stroke="#262626" stroke-width="0.8"/>
<circle cx="289.5" cy="174.5" r="0.9" fill="#262626"/>
<rect x="282.4" y="185" width="5.600000000000023" height="9.300000000000011" fill="#f4f4f4" stroke="#262626" stroke-width="0.9" />
<line x1="279.59999999999997" y1="193.835" x2="289.68" y2="186.86" stroke="#262626" stroke-width="0.8"/>
<circle cx="289.5" cy="186.5" r="0.9" fill="#262626"/>
<text x="285" y="163" font-size="5.5" text-anchor="middle" font-weight="normal" fill="#262626" textLength="9" lengthAdjust="spacingAndGlyphs" stroke="#262626" stroke-width="0.12">REC</text>
<text x="285" y="169" font-size="5.5" text-anchor="middle" font-weight="normal" fill="#262626" textLength="13" lengthAdjust="spacingAndGlyphs" stroke="#262626" stroke-width="0.12">LEVEL</text>
<circle cx="303" cy="164" r="3.4" fill="#f4f4f4" stroke="#262626" stroke-width="1"/>
<line x1="298.92" y1="168.08" x2="306.74" y2="160.26" stroke="#262626" stroke-width="0.9"/>
<polygon points="308.95,158.05 305.89,159.58 307.42,161.11" fill="#262626"/>
<line x1="303.5" y1="167.5" x2="303.5" y2="178" stroke="#262626" stroke-width="1.2"/>
<circle cx="303.5" cy="178.5" r="1.8" fill="#262626"/>
<circle cx="317.2" cy="164" r="3.4" fill="#f4f4f4" stroke="#262626" stroke-width="1"/>
<line x1="313.12" y1="168.08" x2="320.94" y2="160.26" stroke="#262626" stroke-width="0.9"/>
<polygon points="323.15,158.05 320.09,159.58 321.62,161.11" fill="#262626"/>
<line x1="317.5" y1="167.5" x2="317.5" y2="189.8" stroke="#262626" stroke-width="1.2"/>
<circle cx="317.5" cy="189.5" r="1.8" fill="#262626"/>
<text x="257" y="183.5" font-size="7.3" text-anchor="middle" font-weight="normal" fill="#262626" textLength="10.8" lengthAdjust="spacingAndGlyphs" stroke="#262626" stroke-width="0.12">USB</text>
<text x="257" y="190.3" font-size="7.3" text-anchor="middle" font-weight="normal" fill="#262626" textLength="10" lengthAdjust="spacingAndGlyphs" stroke="#262626" stroke-width="0.12">REC</text>
<rect x="329.6" y="148.5" width="36.0" height="15.5" fill="#f2f2f2" stroke="#262626" stroke-width="1.1" />
<text x="347.6" y="155.12" font-size="5.6" text-anchor="middle" font-weight="normal" fill="#262626" textLength="8" lengthAdjust="spacingAndGlyphs" stroke="#262626" stroke-width="0.12">USB</text>
<text x="347.6" y="161.42" font-size="5.6" text-anchor="middle" font-weight="normal" fill="#262626" textLength="20" lengthAdjust="spacingAndGlyphs" stroke="#262626" stroke-width="0.12">MEMORY</text>
<rect x="327.7" y="175" width="40.0" height="18" fill="#f2f2f2" stroke="#262626" stroke-width="1.1" />
<text x="347.7" y="182.66" font-size="6" text-anchor="middle" font-weight="normal" fill="#262626" textLength="33" lengthAdjust="spacingAndGlyphs" stroke="#262626" stroke-width="0.12">USB MEMORY</text>
<text x="347.7" y="189.66" font-size="6" text-anchor="middle" font-weight="normal" fill="#262626" textLength="25" lengthAdjust="spacingAndGlyphs" stroke="#262626" stroke-width="0.12">RECORDER</text>
<line x1="347.5" y1="166" x2="347.5" y2="173" stroke="#262626" stroke-width="1.4"/>
<polygon points="347.5,164.8 345.82,167.53 349.18,167.53" fill="#262626"/>
<polygon points="347.5,174.5 345.82,171.77 349.18,171.77" fill="#262626"/>
<line x1="367.7" y1="178.5" x2="377" y2="178.5" stroke="#262626" stroke-width="1.2"/>
<polygon points="379.5,178.5 376.77,176.82 376.77,180.18" fill="#262626"/>
<line x1="367.7" y1="189.5" x2="377" y2="189.5" stroke="#262626" stroke-width="1.2"/>
<polygon points="379.5,189.5 376.77,187.82 376.77,191.18" fill="#262626"/>
<text x="390.5" y="182.8" font-size="7.3" text-anchor="middle" font-weight="normal" fill="#262626" textLength="10.8" lengthAdjust="spacingAndGlyphs" stroke="#262626" stroke-width="0.12">USB</text>
<text x="390.5" y="190.3" font-size="7.3" text-anchor="middle" font-weight="normal" fill="#262626" textLength="12" lengthAdjust="spacingAndGlyphs" stroke="#262626" stroke-width="0.12">PLAY</text>
<text x="452" y="171.7" font-size="5.5" text-anchor="end" font-weight="normal" fill="#262626" textLength="25" lengthAdjust="spacingAndGlyphs" stroke="#262626" stroke-width="0.12">PINK NOISE</text>
<polygon points="459.5,169.5 457.42,168.22 457.42,170.78" fill="#262626"/>
<line x1="457" y1="169.5" x2="476" y2="169.5" stroke="#262626" stroke-width="0.9"/>
<circle cx="477.5" cy="169.7" r="1.4" fill="#e6e6e6" stroke="#262626" stroke-width="0.8"/>
<text x="452" y="179.5" font-size="5.5" text-anchor="end" font-weight="normal" fill="#262626" textLength="28" lengthAdjust="spacingAndGlyphs" stroke="#262626" stroke-width="0.12">WHITE NOISE</text>
<polygon points="459.5,177.5 457.42,176.22 457.42,178.78" fill="#262626"/>
<line x1="457" y1="177.5" x2="476" y2="177.5" stroke="#262626" stroke-width="0.9"/>
<circle cx="477.5" cy="177.5" r="1.4" fill="#e6e6e6" stroke="#262626" stroke-width="0.8"/>
<text x="452" y="187" font-size="5.5" text-anchor="end" font-weight="normal" fill="#262626" textLength="24" lengthAdjust="spacingAndGlyphs" stroke="#262626" stroke-width="0.12">SINE WAVE</text>
<polygon points="459.5,185.5 457.42,184.22 457.42,186.78" fill="#262626"/>
<line x1="457" y1="185.5" x2="476" y2="185.5" stroke="#262626" stroke-width="0.9"/>
<circle cx="477.5" cy="185" r="1.4" fill="#e6e6e6" stroke="#262626" stroke-width="0.8"/>
<line x1="478" y1="170.5" x2="486" y2="177.5" stroke="#262626" stroke-width="0.8"/>
<circle cx="487" cy="177.5" r="1.4" fill="#e6e6e6" stroke="#262626" stroke-width="0.8"/>
<line x1="488.5" y1="177.5" x2="596" y2="177.5" stroke="#262626" stroke-width="1.2"/>
<rect x="499" y="171.7" width="5" height="9.300000000000011" fill="#f4f4f4" stroke="#262626" stroke-width="0.9" />
<line x1="496.5" y1="180.535" x2="505.5" y2="173.56" stroke="#262626" stroke-width="0.8"/>
<circle cx="505.5" cy="173.5" r="0.9" fill="#262626"/>
<text x="501.5" y="169" font-size="5.5" text-anchor="middle" font-weight="normal" fill="#262626" textLength="11" lengthAdjust="spacingAndGlyphs" stroke="#262626" stroke-width="0.12">GAIN</text>
<circle cx="518.6" cy="157" r="3.4" fill="#f4f4f4" stroke="#262626" stroke-width="1"/>
<line x1="514.52" y1="161.08" x2="522.34" y2="153.26" stroke="#262626" stroke-width="0.9"/>
<polygon points="524.5500000000001,151.05 521.49,152.58 523.02,154.11" fill="#262626"/>
<line x1="518.5" y1="160.5" x2="518.5" y2="177.5" stroke="#262626" stroke-width="1.2"/>
<circle cx="518.5" cy="177.5" r="1.8" fill="#262626"/>
<text x="534.7" y="169.5" font-size="5.5" text-anchor="middle" font-weight="normal" fill="#262626" textLength="22.5" lengthAdjust="spacingAndGlyphs" stroke="#262626" stroke-width="0.12">GENERATE</text>
<circle cx="530" cy="177.5" r="1.4" fill="#e6e6e6" stroke="#262626" stroke-width="0.8"/>
<line x1="530" y1="172" x2="539" y2="176.5" stroke="#262626" stroke-width="0.8"/>
<circle cx="539.7" cy="177.5" r="1.4" fill="#e6e6e6" stroke="#262626" stroke-width="0.8"/>
<text x="585.5" y="144.8" font-size="8" text-anchor="middle" font-weight="bold" fill="#262626" textLength="27" lengthAdjust="spacingAndGlyphs" stroke="#111" stroke-width="0.3">MIX BUS</text>
<text x="586" y="154.6" font-size="6.2" text-anchor="middle" font-weight="normal" fill="#262626" textLength="25.5" lengthAdjust="spacingAndGlyphs" stroke="#222" stroke-width="0.35">1 2 -- 15 16</text>
<line x1="575.5" y1="158" x2="575.5" y2="480" stroke="#4a4a4a" stroke-width="1.8"/>
<line x1="579.5" y1="158" x2="579.5" y2="480" stroke="#4a4a4a" stroke-width="1.8"/>
<line x1="591.5" y1="158" x2="591.5" y2="480" stroke="#4a4a4a" stroke-width="1.8"/>
<line x1="595.5" y1="158" x2="595.5" y2="480" stroke="#4a4a4a" stroke-width="1.8"/>
<circle cx="575.5" cy="177.5" r="1.6" fill="#262626"/>
<circle cx="579.5" cy="177.5" r="1.6" fill="#262626"/>
<circle cx="591.5" cy="177.5" r="1.6" fill="#262626"/>
<circle cx="595.5" cy="177.5" r="1.6" fill="#262626"/>
<circle cx="575.5" cy="193.5" r="1.8" fill="#262626"/>
<circle cx="579.5" cy="198.5" r="1.8" fill="#262626"/>
<circle cx="591.5" cy="203.5" r="1.8" fill="#262626"/>
<circle cx="595.5" cy="208.5" r="1.8" fill="#262626"/>
<line x1="575" y1="193.5" x2="600" y2="193.5" stroke="#262626" stroke-width="1.0"/>
<line x1="579" y1="198.5" x2="600" y2="198.5" stroke="#262626" stroke-width="1.0"/>
<line x1="591" y1="203.5" x2="600" y2="203.5" stroke="#262626" stroke-width="1.0"/>
<line x1="595.6" y1="208.5" x2="600" y2="208.5" stroke="#262626" stroke-width="1.0"/>
<line x1="581" y1="183.5" x2="590" y2="183.5" stroke="#262626" stroke-width="0.7" stroke-dasharray="1,1"/>
<line x1="581" y1="201.5" x2="590" y2="201.5" stroke="#262626" stroke-width="0.7" stroke-dasharray="1,1"/>
<circle cx="575.5" cy="314.5" r="1.8" fill="#262626"/>
<circle cx="591.5" cy="314.5" r="1.8" fill="#262626"/>
<circle cx="579.5" cy="324.5" r="1.8" fill="#262626"/>
<circle cx="595.5" cy="324.5" r="1.8" fill="#262626"/>
<line x1="581" y1="319.5" x2="590" y2="319.5" stroke="#262626" stroke-width="0.7" stroke-dasharray="1,1"/>
<circle cx="575.5" cy="463.5" r="1.8" fill="#262626"/>
<circle cx="591.5" cy="463.5" r="1.8" fill="#262626"/>
<line x1="581" y1="469.5" x2="590" y2="469.5" stroke="#262626" stroke-width="0.7" stroke-dasharray="1,1"/>
<line x1="156" y1="406.5" x2="474.5" y2="406.5" stroke="#262626" stroke-width="1.2"/>
<circle cx="302.5" cy="406.5" r="1.8" fill="#262626"/>
<line x1="302.5" y1="406.7" x2="302.5" y2="387" stroke="#262626" stroke-width="1.2"/>
<circle cx="302.7" cy="383" r="4" fill="#f4f4f4" stroke="#262626" stroke-width="1"/>
<line x1="297.9" y1="387.8" x2="307.09999999999997" y2="378.6" stroke="#262626" stroke-width="0.9"/>
<polygon points="309.7,376.0 306.09999999999997,377.8 307.9,379.6" fill="#262626"/>
<line x1="302.5" y1="406.7" x2="302.5" y2="418" stroke="#262626" stroke-width="1.2"/>
<polygon points="302.5,421 300.74,418.14 304.26,418.14" fill="#262626"/>
<text x="303" y="426.5" font-size="5.5" text-anchor="middle" font-weight="normal" fill="#262626" textLength="15" lengthAdjust="spacingAndGlyphs" stroke="#262626" stroke-width="0.12">Pre EQ</text>
<rect x="318" y="399" width="16" height="15" fill="#f2f2f2" stroke="#262626" stroke-width="1.1" />
<text x="326.0" y="408.66" font-size="6" text-anchor="middle" font-weight="normal" fill="#262626" textLength="8.5" lengthAdjust="spacingAndGlyphs" stroke="#262626" stroke-width="0.12">ATT</text>
<rect x="350" y="399" width="22.5" height="15" fill="#f2f2f2" stroke="#262626" stroke-width="1.1" />
<text x="361.25" y="405.37" font-size="5.6" text-anchor="middle" font-weight="normal" fill="#262626" textLength="14" lengthAdjust="spacingAndGlyphs" stroke="#262626" stroke-width="0.12">4BAND</text>
<text x="361.25" y="411.67" font-size="5.6" text-anchor="middle" font-weight="normal" fill="#262626" textLength="7" lengthAdjust="spacingAndGlyphs" stroke="#262626" stroke-width="0.12">EQ</text>
<circle cx="396.5" cy="406.5" r="1.8" fill="#262626"/>
<line x1="396.5" y1="406.7" x2="396.5" y2="418" stroke="#262626" stroke-width="1.2"/>
<polygon points="396.5,421 394.74,418.14 398.26,418.14" fill="#262626"/>
<text x="397" y="426.5" font-size="5.5" text-anchor="middle" font-weight="normal" fill="#262626" textLength="21" lengthAdjust="spacingAndGlyphs" stroke="#262626" stroke-width="0.12">Pre Fader</text>
<text x="425.5" y="401" font-size="5.5" text-anchor="middle" font-weight="normal" fill="#262626" textLength="13" lengthAdjust="spacingAndGlyphs" stroke="#262626" stroke-width="0.12">MUTE</text>
<rect x="422" y="405.2" width="7.5" height="3" fill="#d6d7d5" />
<circle cx="420.5" cy="406.7" r="1.5" fill="#e6e6e6" stroke="#262626" stroke-width="0.8"/>
<circle cx="431.5" cy="406.7" r="1.5" fill="#e6e6e6" stroke="#262626" stroke-width="0.8"/>
<line x1="420.8" y1="402.5" x2="430.7" y2="405.8" stroke="#262626" stroke-width="0.8"/>
<line x1="426.5" y1="411" x2="426.5" y2="472" stroke="#262626" stroke-width="0.8" stroke-dasharray="1,1.2"/>
<text x="444" y="392" font-size="5.5" text-anchor="middle" font-weight="normal" fill="#262626" textLength="15" lengthAdjust="spacingAndGlyphs" stroke="#262626" stroke-width="0.12">FADER</text>
<rect x="441.2" y="396.2" width="5.800000000000011" height="20.80000000000001" fill="#f4f4f4" stroke="#262626" stroke-width="0.9" />
<line x1="438.29999999999995" y1="415.96" x2="448.74" y2="400.36" stroke="#262626" stroke-width="0.8"/>
<circle cx="449.5" cy="399.5" r="0.9" fill="#262626"/>
<circle cx="460" cy="383" r="4" fill="#f4f4f4" stroke="#262626" stroke-width="1"/>
<line x1="455.2" y1="387.8" x2="464.4" y2="378.6" stroke="#262626" stroke-width="0.9"/>
<polygon points="467.0,376.0 463.4,377.8 465.2,379.6" fill="#262626"/>
<line x1="460.5" y1="387" x2="460.5" y2="418" stroke="#262626" stroke-width="1.2"/>
<circle cx="460.5" cy="406.5" r="1.8" fill="#262626"/>
<polygon points="460.5,421 458.74,418.14 462.26,418.14" fill="#262626"/>
<text x="461" y="426.5" font-size="5.5" text-anchor="middle" font-weight="normal" fill="#262626" textLength="23" lengthAdjust="spacingAndGlyphs" stroke="#262626" stroke-width="0.12">Post Fader</text>
<circle cx="474.5" cy="406.5" r="1.8" fill="#262626"/>
<polyline points="474.5,437.5 474.5,388.5 515.5,388.5 515.5,416.5 519.5,416.5" stroke="#262626" stroke-width="1.0" fill="none"/>
<rect x="498.7" y="384.1" width="4.900000000000034" height="7.899999999999977" fill="#f4f4f4" stroke="#262626" stroke-width="0.9" />
<line x1="496.25" y1="391.605" x2="505.07000000000005" y2="385.68" stroke="#262626" stroke-width="0.8"/>
<circle cx="505.5" cy="385.5" r="0.9" fill="#262626"/>
<text x="501.5" y="380.4" font-size="5.5" text-anchor="middle" font-weight="normal" fill="#262626" textLength="12" lengthAdjust="spacingAndGlyphs" stroke="#262626" stroke-width="0.12">GAIN</text>
<text x="488" y="397.9" font-size="5.5" text-anchor="middle" font-weight="normal" fill="#262626" textLength="18" lengthAdjust="spacingAndGlyphs" stroke="#262626" stroke-width="0.12">PAN (L,R)</text>
<line x1="474.9" y1="406.5" x2="483" y2="406.5" stroke="#262626" stroke-width="1.0"/>
<polygon points="485,406.5 482.92,405.22 482.92,407.78" fill="#262626"/>
<path d="M483.2,401.5 Q488.6,406.65 483.2,411.29999999999995 M485,401.5 Q490.4,406.65 485,411.29999999999995" fill="none" stroke="#262626" stroke-width="0.8"/>
<line x1="485" y1="401.5" x2="519.2" y2="401.5" stroke="#262626" stroke-width="1.0"/>
<polyline points="485.5,411.5 511.5,411.5 511.5,431.5 519.5,431.5" stroke="#262626" stroke-width="1.0" fill="none"/>
<circle cx="489.5" cy="401.5" r="1.5" fill="#262626"/>
<circle cx="495.5" cy="411.5" r="1.5" fill="#262626"/>
<line x1="489.5" y1="401.20000000000005" x2="489.5" y2="418.4" stroke="#262626" stroke-width="0.9"/>
<polygon points="489.5,420.4 488.3,418.45 490.7,418.45" fill="#262626"/>
<line x1="495.5" y1="411.9" x2="495.5" y2="418.4" stroke="#262626" stroke-width="0.9"/>
<polygon points="495.5,420.4 494.3,418.45 496.7,418.45" fill="#262626"/>
<text x="492" y="426.4" font-size="5.5" text-anchor="middle" font-weight="normal" fill="#262626" textLength="18" lengthAdjust="spacingAndGlyphs" stroke="#262626" stroke-width="0.12">Post Pan</text>
<polyline points="519.5,407.5 504.5,407.5 504.5,429.5 486.5,429.5" stroke="#262626" stroke-width="1.0" fill="none"/>
<polyline points="474.5,437.5 509.5,437.5 509.5,423.5 519.5,423.5" stroke="#262626" stroke-width="1.0" fill="none"/>
<polyline points="486.5,444.5 514.5,444.5 514.5,438.5 519.5,438.5" stroke="#262626" stroke-width="1.0" fill="none"/>
<path d="M483,429.9 Q492,437.20000000000005 483,444.6 M485,429.9 Q494,437.20000000000005 485,444.6" fill="none" stroke="#262626" stroke-width="0.8"/>
<text x="487" y="449.9" font-size="5.5" text-anchor="middle" font-weight="normal" fill="#262626" textLength="21" lengthAdjust="spacingAndGlyphs" stroke="#262626" stroke-width="0.12">PAN (LCR)</text>
<text x="525.5" y="395.9" font-size="6" text-anchor="middle" font-weight="normal" fill="#262626" textLength="9.5" lengthAdjust="spacingAndGlyphs" stroke="#262626" stroke-width="0.12">LCR</text>
<circle cx="520.7" cy="401.20000000000005" r="1.5" fill="#e6e6e6" stroke="#262626" stroke-width="0.8"/>
<circle cx="520.7" cy="407.20000000000005" r="1.5" fill="#e6e6e6" stroke="#262626" stroke-width="0.8"/>
<circle cx="520.7" cy="416.4" r="1.5" fill="#e6e6e6" stroke="#262626" stroke-width="0.8"/>
<circle cx="520.7" cy="423.4" r="1.5" fill="#e6e6e6" stroke="#262626" stroke-width="0.8"/>
<circle cx="520.7" cy="431.9" r="1.5" fill="#e6e6e6" stroke="#262626" stroke-width="0.8"/>
<circle cx="520.7" cy="438.1" r="1.5" fill="#e6e6e6" stroke="#262626" stroke-width="0.8"/>
<line x1="521.5" y1="402.40000000000003" x2="530" y2="405.3" stroke="#262626" stroke-width="0.8"/>
<circle cx="531.3" cy="405.6" r="1.5" fill="#e6e6e6" stroke="#262626" stroke-width="0.8"/>
<line x1="532.8" y1="405.5" x2="540.5" y2="405.5" stroke="#262626" stroke-width="1.0"/>
<circle cx="542" cy="405.6" r="1.5" fill="#e6e6e6" stroke="#262626" stroke-width="0.8"/>
<circle cx="552.5" cy="405.6" r="1.5" fill="#e6e6e6" stroke="#262626" stroke-width="0.8"/>
<line x1="542.5" y1="401.6" x2="551.5" y2="404.8" stroke="#262626" stroke-width="0.8"/>
<line x1="554" y1="405.5" x2="600" y2="405.5" stroke="#262626" stroke-width="1.2"/>
<line x1="521.5" y1="417.59999999999997" x2="530" y2="420.59999999999997" stroke="#262626" stroke-width="0.8"/>
<circle cx="531.3" cy="420.9" r="1.5" fill="#e6e6e6" stroke="#262626" stroke-width="0.8"/>
<line x1="532.8" y1="420.5" x2="540.5" y2="420.5" stroke="#262626" stroke-width="1.0"/>
<circle cx="542" cy="420.9" r="1.5" fill="#e6e6e6" stroke="#262626" stroke-width="0.8"/>
<circle cx="552.5" cy="420.9" r="1.5" fill="#e6e6e6" stroke="#262626" stroke-width="0.8"/>
<line x1="542.5" y1="416.9" x2="551.5" y2="420.09999999999997" stroke="#262626" stroke-width="0.8"/>
<line x1="554" y1="420.5" x2="600" y2="420.5" stroke="#262626" stroke-width="1.2"/>
<line x1="521.5" y1="433.09999999999997" x2="530" y2="435.59999999999997" stroke="#262626" stroke-width="0.8"/>
<circle cx="531.3" cy="435.9" r="1.5" fill="#e6e6e6" stroke="#262626" stroke-width="0.8"/>
<line x1="532.8" y1="435.5" x2="540.5" y2="435.5" stroke="#262626" stroke-width="1.0"/>
<circle cx="542" cy="435.9" r="1.5" fill="#e6e6e6" stroke="#262626" stroke-width="0.8"/>
<circle cx="552.5" cy="435.9" r="1.5" fill="#e6e6e6" stroke="#262626" stroke-width="0.8"/>
<line x1="542.5" y1="431.9" x2="551.5" y2="435.09999999999997" stroke="#262626" stroke-width="0.8"/>
<line x1="554" y1="435.5" x2="600" y2="435.5" stroke="#262626" stroke-width="1.2"/>
<line x1="526.5" y1="407.9" x2="526.5" y2="435.9" stroke="#262626" stroke-width="0.7" stroke-dasharray="1,1"/>
<line x1="536.5" y1="399.4" x2="536.5" y2="430.9" stroke="#262626" stroke-width="0.7" stroke-dasharray="1,1"/>
<line x1="536.7" y1="399.5" x2="541" y2="399.5" stroke="#262626" stroke-width="0.7" stroke-dasharray="1,1"/>
<line x1="536.7" y1="415.5" x2="541" y2="415.5" stroke="#262626" stroke-width="0.7" stroke-dasharray="1,1"/>
<line x1="536.7" y1="430.5" x2="541" y2="430.5" stroke="#262626" stroke-width="0.7" stroke-dasharray="1,1"/>
<text x="547.5" y="400.9" font-size="5" text-anchor="middle" font-weight="normal" fill="#262626" textLength="11" lengthAdjust="spacingAndGlyphs" stroke="#262626" stroke-width="0.12">stereo</text>
<text x="547.5" y="416.9" font-size="5" text-anchor="middle" font-weight="normal" fill="#262626" textLength="10" lengthAdjust="spacingAndGlyphs" stroke="#262626" stroke-width="0.12">mono</text>
<text x="547.5" y="432.4" font-size="5" text-anchor="middle" font-weight="normal" fill="#262626" textLength="11" lengthAdjust="spacingAndGlyphs" stroke="#262626" stroke-width="0.12">stereo</text>
<text x="396" y="464" font-size="5.6" text-anchor="end" font-weight="normal" fill="#262626" textLength="78" lengthAdjust="spacingAndGlyphs" stroke="#262626" stroke-width="0.12">Pre EQ/Pre Fader/Post Fader/Post Pan L</text>
<line x1="403" y1="462.5" x2="420" y2="462.5" stroke="#262626" stroke-width="1.1"/>
<polygon points="405.5,462.5 402.9,460.9 402.9,464.1" fill="#262626"/>
<circle cx="420.5" cy="462" r="1.5" fill="#e6e6e6" stroke="#262626" stroke-width="0.8"/>
<circle cx="431" cy="462" r="1.5" fill="#e6e6e6" stroke="#262626" stroke-width="0.8"/>
<line x1="420.8" y1="457.8" x2="430.2" y2="461.1" stroke="#262626" stroke-width="0.8"/>
<text x="396" y="473" font-size="5.6" text-anchor="end" font-weight="normal" fill="#262626" textLength="78" lengthAdjust="spacingAndGlyphs" stroke="#262626" stroke-width="0.12">Pre EQ/Pre Fader/Post Fader/Post Pan R</text>
<line x1="403" y1="471.5" x2="420" y2="471.5" stroke="#262626" stroke-width="1.1"/>
<polygon points="405.5,471.5 402.9,469.9 402.9,473.1" fill="#262626"/>
<circle cx="420.5" cy="471" r="1.5" fill="#e6e6e6" stroke="#262626" stroke-width="0.8"/>
<circle cx="431" cy="471" r="1.5" fill="#e6e6e6" stroke="#262626" stroke-width="0.8"/>
<line x1="420.8" y1="466.8" x2="430.2" y2="470.1" stroke="#262626" stroke-width="0.8"/>
<text x="419" y="456" font-size="5.5" text-anchor="middle" font-weight="normal" fill="#262626" textLength="13" lengthAdjust="spacingAndGlyphs" stroke="#262626" stroke-width="0.12">MUTE</text>
<text x="444" y="454" font-size="5.5" text-anchor="middle" font-weight="normal" fill="#262626" textLength="11" lengthAdjust="spacingAndGlyphs" stroke="#262626" stroke-width="0.12">GAIN</text>
<rect x="443" y="457" width="5" height="10" fill="#f4f4f4" stroke="#262626" stroke-width="0.9" />
<line x1="440.5" y1="466.5" x2="449.5" y2="459.0" stroke="#262626" stroke-width="0.8"/>
<circle cx="449.5" cy="458.5" r="0.9" fill="#262626"/>
<rect x="443" y="467.5" width="5" height="9.5" fill="#f4f4f4" stroke="#262626" stroke-width="0.9" />
<line x1="440.5" y1="476.525" x2="449.5" y2="469.4" stroke="#262626" stroke-width="0.8"/>
<circle cx="449.5" cy="468.5" r="0.9" fill="#262626"/>
<line x1="432" y1="463.5" x2="541" y2="463.5" stroke="#262626" stroke-width="1.0"/>
<circle cx="541" cy="463.6" r="1.5" fill="#e6e6e6" stroke="#262626" stroke-width="0.8"/>
<circle cx="552" cy="463.6" r="1.5" fill="#e6e6e6" stroke="#262626" stroke-width="0.8"/>
<line x1="541.3" y1="459.40000000000003" x2="551.2" y2="462.70000000000005" stroke="#262626" stroke-width="0.8"/>
<line x1="552.5" y1="463.5" x2="600" y2="463.5" stroke="#262626" stroke-width="1.0"/>
<line x1="432" y1="472.5" x2="541" y2="472.5" stroke="#262626" stroke-width="1.0"/>
<circle cx="541" cy="472" r="1.5" fill="#e6e6e6" stroke="#262626" stroke-width="0.8"/>
<circle cx="552" cy="472" r="1.5" fill="#e6e6e6" stroke="#262626" stroke-width="0.8"/>
<line x1="541.3" y1="467.8" x2="551.2" y2="471.1" stroke="#262626" stroke-width="0.8"/>
<line x1="552.5" y1="472.5" x2="600" y2="472.5" stroke="#262626" stroke-width="1.0"/>
<text x="513.5" y="461" font-size="5.5" text-anchor="middle" font-weight="normal" fill="#262626" textLength="21" lengthAdjust="spacingAndGlyphs" stroke="#262626" stroke-width="0.12">Mix 1,3...15</text>
<text x="513.5" y="470" font-size="5.5" text-anchor="middle" font-weight="normal" fill="#262626" textLength="21" lengthAdjust="spacingAndGlyphs" stroke="#262626" stroke-width="0.12">Mix 2,4...16</text>
<text x="547.5" y="458" font-size="5" text-anchor="middle" font-weight="normal" fill="#262626" textLength="10" lengthAdjust="spacingAndGlyphs" stroke="#262626" stroke-width="0.12">mute</text>
<text x="547.5" y="467.5" font-size="5" text-anchor="middle" font-weight="normal" fill="#262626" textLength="10" lengthAdjust="spacingAndGlyphs" stroke="#262626" stroke-width="0.12">mute</text>
</g>
<rect x="0" y="113" width="1.6" height="360" fill="url(#strip)" />
<rect x="0" y="0" width="600" height="113" fill="#ffffff" />
<rect x="0" y="113" width="600" height="5" fill="#050505" />
<rect x="1.5" y="118" width="598.5" height="24.6" fill="url(#tb)" />
<rect x="1.5" y="141.6" width="598.5" height="1" fill="#9a9a9a" />
<circle cx="7.3" cy="124.4" r="2.5" fill="#d9938e" stroke="#b07a76" stroke-width="0.6"/>
<circle cx="15.7" cy="124.4" r="2.5" fill="#ddbb88" stroke="#b09060" stroke-width="0.6"/>
<circle cx="24" cy="124.4" r="2.5" fill="#a6cc8e" stroke="#80a86a" stroke-width="0.6"/>
<text x="222" y="126.8" font-size="6.8" text-anchor="start" font-weight="normal" fill="#3c3c3c" textLength="122.5" lengthAdjust="spacingAndGlyphs" stroke="#3c3c3c" stroke-width="0.1">Ohne Titel (X32_M_EN Kopie) (Seite 65 von 70)</text>
<text x="346.7" y="126.8" font-size="6.8" text-anchor="start" font-weight="normal" fill="#8e8e8e" textLength="34" lengthAdjust="spacingAndGlyphs" stroke="#8e8e8e" stroke-width="0.05">— Bearbeitet</text>
<rect x="6" y="131" width="14.7" height="7" rx="1.5" fill="url(#btn)" stroke="#8e8e8e" stroke-width="0.6"/>
<rect x="24.7" y="131" width="29.3" height="7" rx="1.5" fill="url(#btn)" stroke="#8e8e8e" stroke-width="0.6"/>
<rect x="58.7" y="131" width="15.299999999999997" height="7" rx="1.5" fill="url(#btn)" stroke="#8e8e8e" stroke-width="0.6"/>
<line x1="39.5" y1="131.5" x2="39.5" y2="137.5" stroke="#aaa" stroke-width="0.5"/>
<rect x="8.5" y="132.6" width="6" height="4" fill="none" stroke="#555" stroke-width="0.7" />
<rect x="8.5" y="132.6" width="2" height="4" fill="#777" />
<polygon points="16.5,134 19,134 17.75,135.6" fill="#444"/>
<circle cx="31.5" cy="134.2" r="2" fill="none" stroke="#3a3a3a" stroke-width="0.9"/>
<line x1="32.9" y1="135.6" x2="34.4" y2="137.1" stroke="#3a3a3a" stroke-width="1.1"/>
<circle cx="46.5" cy="134.2" r="2" fill="none" stroke="#3a3a3a" stroke-width="0.9"/>
<line x1="47.9" y1="135.6" x2="49.4" y2="137.1" stroke="#3a3a3a" stroke-width="1.1"/>
<rect x="63" y="133.5" width="5" height="3.3" fill="none" stroke="#555" stroke-width="0.6" />
<line x1="65" y1="135.5" x2="69" y2="132.5" stroke="#444" stroke-width="0.7"/>
<rect x="435" y="131" width="21" height="7" rx="1.5" fill="url(#btn)" stroke="#8e8e8e" stroke-width="0.6"/>
<rect x="460.5" y="131" width="15.0" height="7" rx="1.5" fill="url(#btn)" stroke="#8e8e8e" stroke-width="0.6"/>
<rect x="478.5" y="131" width="15.0" height="7" rx="1.5" fill="url(#btn)" stroke="#8e8e8e" stroke-width="0.6"/>
<line x1="450.5" y1="131.5" x2="450.5" y2="137.5" stroke="#aaa" stroke-width="0.5"/>
<line x1="441" y1="137" x2="445" y2="132.5" stroke="#444" stroke-width="0.9"/>
<polygon points="452,134 454.5,134 453.25,135.6" fill="#444"/>
<text x="468" y="137" font-size="6.5" text-anchor="middle" font-weight="normal" fill="#444" stroke="#444" stroke-width="0.12">5</text>
<rect x="483" y="133" width="5" height="4" fill="none" stroke="#555" stroke-width="0.6" />
<line x1="485" y1="136" x2="489" y2="132" stroke="#444" stroke-width="0.8"/>
<rect x="496.5" y="129.8" width="101" height="8.8" rx="4.4" fill="#fbfbfb" stroke="#8e8e8e" stroke-width="0.6"/>
<circle cx="502" cy="133.8" r="1.6" fill="none" stroke="#555" stroke-width="0.6"/>
<line x1="503.2" y1="135" x2="504.5" y2="136.3" stroke="#555" stroke-width="0.6"/>
<line x1="593" y1="127" x2="597" y2="123" stroke="#777" stroke-width="0.6"/>
<polygon points="597.5,122.5 595,122.8 597.2,125" fill="#777"/>
<rect x="0" y="472" width="600" height="11" fill="url(#blue)" />
<rect x="0" y="473" width="177" height="1" fill="#1c2e46" />
<rect x="177" y="472" width="321" height="2" fill="#555555" />
<rect x="177" y="474" width="321" height="8" fill="url(#dock)" />
<rect x="177" y="482" width="321" height="1" fill="#a4a4a4" />
<rect x="498" y="472" width="102" height="11" fill="url(#blue2)" />
<text x="195" y="479.8" font-size="6.3" text-anchor="start" font-weight="normal" fill="#1a1a1a" textLength="29.5" lengthAdjust="spacingAndGlyphs" stroke="#1a1a1a" stroke-width="0.12">Dokumente</text>
<rect x="184.5" y="475" width="6.5" height="6" fill="#7a7a7a" stroke="#555" stroke-width="0.5" />
<rect x="0" y="483" width="600" height="5" fill="#040404" />
<rect x="0" y="488" width="600" height="112" fill="#ffffff" />
</svg></body></html>
